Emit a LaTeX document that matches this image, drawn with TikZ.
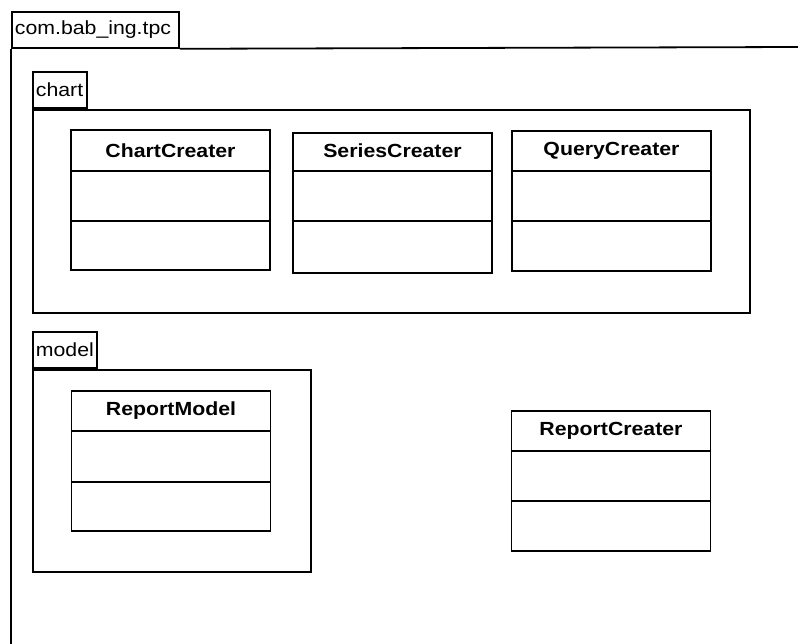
\documentclass[tikz,border=0pt]{standalone}
\usepackage{fontspec}
\setmainfont[FakeStretch=1.12]{Liberation Sans}
\usepackage{tikz}
\usetikzlibrary{positioning}

\begin{document}
\begin{tikzpicture}[x=1pt,y=-1pt,line width=1.8pt,
    every node/.style={font=\fontsize{19}{22}\selectfont},
    pkgtab/.style={draw,anchor=north west,minimum height=36pt,inner xsep=3pt,align=left},
    pkgbody/.style={draw,anchor=north west,inner sep=0pt},
    classbox/.style={draw,minimum width=199pt,minimum height=140pt,inner sep=0pt},
    classname/.style={font=\bfseries\fontsize{19}{22}\selectfont}]

    \useasboundingbox (0,0) rectangle (798,644);

    % outer package, open to the right and below
    \node[pkgtab,text width=161pt] (tpc) at (11,11) {com.bab\_ing.tpc};
    \coordinate (tpcright) at (798,47);
    \coordinate (tpcbottom) at (11,644);
    \draw (tpc.south east) -- (tpcright);
    \draw (tpc.south west) -- (tpcbottom);

    % chart package
    \node[pkgtab,text width=48pt] (charttab) at (32,71) {chart};
    \node[pkgbody,minimum width=717pt,minimum height=203pt] (chart) at (charttab.south west) {};

    \node[classbox] (cc) at (170.5,200) {};
    \node[classname] at (170.5,151) {ChartCreater};
    \draw (cc.west |- 0,171) -- (cc.east |- 0,171);
    \draw (cc.west |- 0,221) -- (cc.east |- 0,221);

    \node[classbox] (sc) at (392.5,203) {};
    \node[classname] at (392.5,151) {SeriesCreater};
    \draw (sc.west |- 0,171) -- (sc.east |- 0,171);
    \draw (sc.west |- 0,221) -- (sc.east |- 0,221);

    \node[classbox] (qc) at (611.5,201) {};
    \node[classname] at (611.5,151) {QueryCreater};
    \draw (qc.west |- 0,171) -- (qc.east |- 0,171);
    \draw (qc.west |- 0,221) -- (qc.east |- 0,221);

    % model package
    \node[pkgtab,text width=58pt] (modeltab) at (32,331) {model};
    \node[pkgbody,minimum width=278pt,minimum height=202pt] (model) at (modeltab.south west) {};

    \node[classbox] (rm) at (171,461) {};
    \node[classname] at (171,411) {ReportModel};
    \draw (rm.west |- 0,431) -- (rm.east |- 0,431);
    \draw (rm.west |- 0,482) -- (rm.east |- 0,482);

    % loose class
    \node[classbox] (rc) at (611,481) {};
    \node[classname] at (611,431) {ReportCreater};
    \draw (rc.west |- 0,451) -- (rc.east |- 0,451);
    \draw (rc.west |- 0,501) -- (rc.east |- 0,501);
\end{tikzpicture}
\end{document}
